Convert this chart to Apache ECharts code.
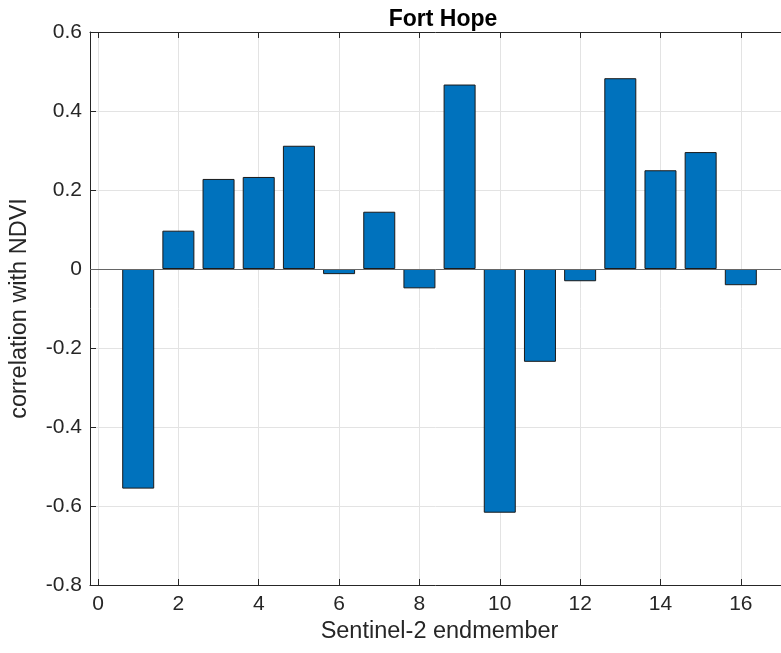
<!DOCTYPE html>
<html><head><meta charset="utf-8">
<script src="https://cdn.jsdelivr.net/npm/echarts@6/dist/echarts.min.js"></script>
<style>html,body{margin:0;padding:0;background:#fff}#c{width:781px;height:653px}</style>
</head><body><div id="c"></div>
<script>
const endmembers = [1,2,3,4,5,6,7,8,9,10,11,12,13,14,15,16];
const correlation = [-0.556,0.097,0.228,0.233,0.312,-0.013,0.145,-0.049,0.467,-0.617,-0.235,-0.031,0.483,0.250,0.296,-0.041];
const xTicks = [0,2,4,6,8,10,12,14,16];
const yTicks = [-0.8,-0.6,-0.4,-0.2,0,0.2,0.4,0.6];

const font = 'Liberation Sans, Arial, sans-serif';
const axisCol = '#262626';
const chart = echarts.init(document.getElementById('c'));
chart.setOption({
  animation:false,
  title:{text:'Fort Hope', left:438, top:3, textAlign:'center',
    textStyle:{fontFamily:font, fontSize:23, fontWeight:'bold', color:'#000'}},
  grid:{left:88, top:32, right:0, bottom:68},
  xAxis:[{
    type:'value', min:-0.2, max:17.0,
    axisLine:{show:true, onZero:false, lineStyle:{color:axisCol, width:1}},
    axisTick:{show:true, inside:true, length:6, lineStyle:{color:axisCol}, customValues:xTicks},
    axisLabel:{color:'#262626', fontFamily:font, fontSize:21, margin:9, customValues:xTicks,
      formatter:v=>String(v)},
    splitLine:{show:true, lineStyle:{color:'#e3e3e3', width:1}},
    name:'Sentinel-2 endmember', nameLocation:'middle', nameGap:33,
    nameTextStyle:{fontFamily:font, fontSize:23.5, color:'#262626', padding:[0,0,0,8]}
  },{
    type:'value', position:'top', min:-0.2, max:17.0,
    axisLine:{show:true, onZero:false, lineStyle:{color:axisCol, width:1}},
    axisTick:{show:true, inside:true, length:6, lineStyle:{color:axisCol}, customValues:xTicks},
    axisLabel:{show:false}, splitLine:{show:false}
  }],
  yAxis:{
    type:'value', min:-0.8, max:0.6, interval:0.2,
    axisLine:{show:true, onZero:false, lineStyle:{color:axisCol, width:1}},
    axisTick:{show:true, inside:true, length:6, lineStyle:{color:axisCol}},
    axisLabel:{color:'#262626', fontFamily:font, fontSize:21, margin:8,
      formatter:v=>Math.abs(v)<1e-9?'0':v.toFixed(1)},
    splitLine:{show:true, lineStyle:{color:'#e3e3e3', width:1}},
    name:'correlation with NDVI', nameLocation:'middle', nameGap:58, nameRotate:90,
    nameTextStyle:{fontFamily:font, fontSize:23.5, color:'#262626'}
  },
  series:[{
    type:'bar', xAxisIndex:0,
    data: endmembers.map((x,i)=>[x, correlation[i]]),
    barWidth:32,
    itemStyle:{color:'#0072BD', borderColor:'#1a1a1a', borderWidth:1},
    markLine:{silent:true, symbol:'none', label:{show:false},
      lineStyle:{color:'#666', width:1, type:'solid'}, data:[{yAxis:0}]}
  }]
});
</script></body></html>
